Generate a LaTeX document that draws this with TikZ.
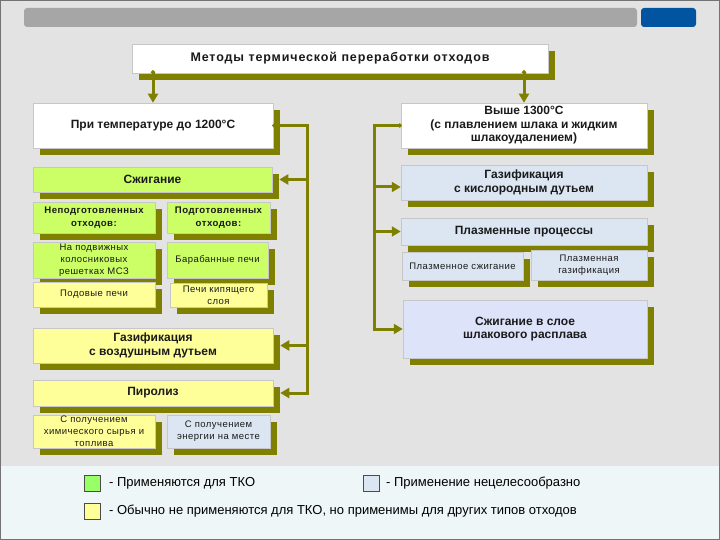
\documentclass[tikz,border=0pt]{standalone}
\usepackage{fontspec}
\setmainfont{Liberation Sans}
\usetikzlibrary{shadows,arrows.meta}
\definecolor{olv}{HTML}{808000}
\definecolor{grn}{HTML}{CCFF66}
\definecolor{ylw}{HTML}{FFFF99}
\definecolor{lbl}{HTML}{DCE6F2}
\definecolor{lbl2}{HTML}{DDE3F9}
\definecolor{bgc}{HTML}{E3E3E3}
\definecolor{bandc}{HTML}{EEF6F8}
\definecolor{barg}{HTML}{A6A6A6}
\definecolor{barb}{HTML}{0054A0}
\definecolor{txt}{HTML}{1A1A1A}
\definecolor{lgreen}{HTML}{99FF66}
\begin{document}
\begin{tikzpicture}[x=1pt,y=-1pt,
  box/.style={draw=black!22, line width=0.5pt, align=center, inner sep=0pt,
    text=txt, drop shadow={shadow xshift=7pt, shadow yshift=-7pt, fill=olv, opacity=1}},
  ttl/.style={font=\fontsize{12.5}{15}\selectfont\bfseries\addfontfeature{LetterSpace=7}},
  big/.style={font=\fontsize{12}{13.5}\selectfont\bfseries},
  sml/.style={font=\fontsize{9.5}{12.2}\selectfont\addfontfeature{LetterSpace=5}},
  smb/.style={font=\fontsize{9.6}{12.5}\selectfont\bfseries\addfontfeature{LetterSpace=5}},
  tight/.style={inner ysep=-4pt},
  conn/.style={draw=olv, line width=3pt},
  arr/.style={conn, -{Triangle[length=9pt,width=10pt]}},
  dot/.style={conn, {Circle[length=4pt]}-{Triangle[length=9pt,width=10pt]}},
  legsq/.style={draw=black!70, line width=0.6pt, minimum width=16pt, minimum height=16pt, inner sep=0pt},
  legtx/.style={anchor=west, font=\fontsize{13}{15}\selectfont, text=black, inner sep=0pt}
]
\useasboundingbox (0,0) rectangle (720,540);
\fill[bgc] (0,0) rectangle (720,466);
\fill[bandc] (0,466) rectangle (720,540);
\draw[black!55, line width=1pt] (0.5,0.5) rectangle (719.5,539.5);
\fill[barg, rounded corners=3pt] (24,8) rectangle (637,27);
\fill[barb, rounded corners=3pt] (641,8) rectangle (696,27);

% title
\node[box, ttl, fill=white, minimum width=416pt, minimum height=29pt] (title) at (340,58.5) {Методы термической переработки отходов};

% left column
\node[box, big, fill=white, minimum width=240pt, minimum height=45pt] (t1200) at (153,125.5) {При температуре до 1200°C};
\node[box, big, fill=grn, minimum width=239pt, minimum height=25pt] (szh) at (152.5,179.5) {Сжигание};
\node[box, smb, fill=grn, minimum width=122pt, minimum height=31pt] (nepod) at (94,217.5) {Неподготовленных\\отходов:};
\node[box, smb, fill=grn, minimum width=103pt, minimum height=31pt] (pod) at (218.5,217.5) {Подготовленных\\отходов:};
\node[box, sml, tight, fill=grn, minimum width=122pt, minimum height=36pt] (nap) at (94,260) {На подвижных\\колосниковых\\решетках МСЗ};
\node[box, sml, fill=grn, minimum width=101pt, minimum height=36pt] (bar) at (217.5,260) {Барабанные печи};
\node[box, sml, fill=ylw, minimum width=122pt, minimum height=25pt] (podov) at (94,294.5) {Подовые печи};
\node[box, sml, fill=ylw, minimum width=97pt, minimum height=24pt] (kip) at (218.5,295) {Печи кипящего\\слоя};
\node[box, big, fill=ylw, minimum width=240pt, minimum height=35pt] (gazv) at (153,345.5) {Газификация\\с воздушным дутьем};
\node[box, big, fill=ylw, minimum width=240pt, minimum height=26pt] (pir) at (153,393) {Пиролиз};
\node[box, sml, tight, fill=ylw, minimum width=122pt, minimum height=33pt] (chem) at (94,431.5) {С получением\\химического сырья и\\топлива};
\node[box, sml, fill=lbl, minimum width=103pt, minimum height=33pt] (energ) at (218.5,431.5) {С получением\\энергии на месте};

% right column
\node[box, big, fill=white, minimum width=246pt, minimum height=45pt] (t1300) at (524,125.5) {Выше 1300°C\\(с плавлением шлака и жидким\\шлакоудалением)};
\node[box, big, fill=lbl, minimum width=246pt, minimum height=35pt] (gazk) at (524,182.5) {Газификация\\с кислородным дутьем};
\node[box, big, fill=lbl, minimum width=246pt, minimum height=27pt] (plz) at (524,231.5) {Плазменные процессы};
\node[box, sml, fill=lbl, minimum width=121pt, minimum height=28pt] (plsz) at (462.5,266) {Плазменное сжигание};
\node[box, sml, fill=lbl, minimum width=116pt, minimum height=30pt] (plgz) at (589,265) {Плазменная\\газификация};
\node[box, big, fill=lbl2, minimum width=244pt, minimum height=58pt] (slag) at (525,329) {Сжигание в слое\\шлакового расплава};

% connectors
\draw[dot] ([yshift=3pt]title.south -| t1200.north) -- (t1200.north);
\draw[dot] ([yshift=3pt]title.south -| t1300.north) -- (t1300.north);

\coordinate (bl) at (307,125.5);
\coordinate (blb) at (307,393);
\draw[conn, {Circle[length=4pt]}-] ([xshift=-1pt]t1200.east) -- (bl) -- ([yshift=-1.5pt]blb);
\draw[arr] (bl |- szh.east) -- ([xshift=7pt]szh.east);
\draw[arr] (bl |- gazv.east) -- ([xshift=7pt]gazv.east);
\draw[arr] ([xshift=1.5pt]blb) -- ([xshift=7pt]pir.east);

\coordinate (br) at (374,125.5);
\coordinate (brb) at (374,329);
\draw[conn, {Circle[length=4pt]}-] ([xshift=1pt]t1300.west) -- (br) -- ([yshift=-1.5pt]brb);
\draw[arr] (br |- 0,187) -- ([yshift=-4.5pt]gazk.west);
\draw[arr] (br |- plz.west) -- (plz.west);
\draw[arr] ([xshift=-1.5pt]brb) -- (slag.west);

% legend
\node[legsq, fill=lgreen] (lg1) at (92.5,483.5) {};
\node[legtx] (lt1) at (109,483) {- Применяются для ТКО};
\node[legsq, fill=lbl] (lg2) at (371,483.5) {};
\node[legtx] (lt2) at (386,483) {- Применение нецелесообразно};
\node[legsq, fill=ylw] (lg3) at (92.5,511.5) {};
\node[legtx] (lt3) at (109,511) {- Обычно не применяются для ТКО, но применимы для других типов отходов};
\end{tikzpicture}
\end{document}
